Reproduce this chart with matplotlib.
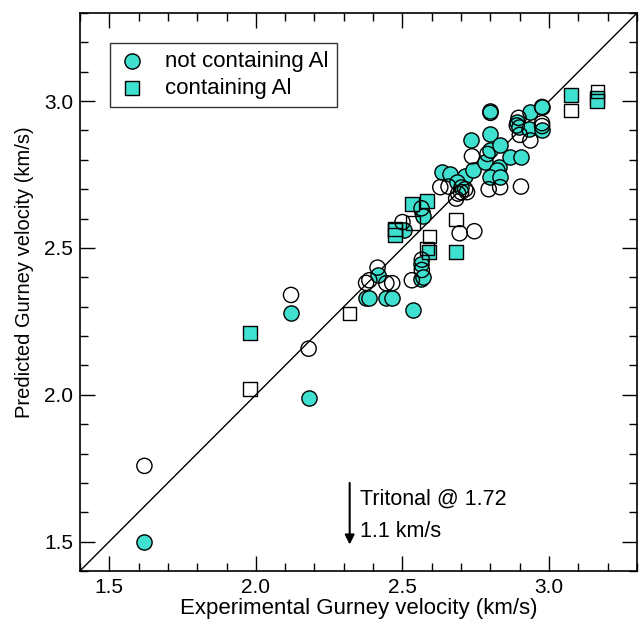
import matplotlib
matplotlib.use("Agg")
import matplotlib.pyplot as plt
from matplotlib.ticker import MultipleLocator

plt.rcParams["font.family"] = ["Liberation Sans", "DejaVu Sans"]

TURQ = "#40e0d0"

# not containing Al, filled
circ_fill_x = [1.62, 2.12, 2.18, 2.375, 2.385, 2.445, 2.465, 2.535, 2.415, 2.563,
               2.563, 2.57, 2.505, 2.565, 2.57, 2.634, 2.663, 2.714, 2.686, 2.70,
               2.733, 2.742, 2.782, 2.80, 2.80, 2.799, 2.833, 2.828, 2.822, 2.80,
               2.833, 2.865, 2.905, 2.89, 2.896, 2.93, 2.936, 2.976, 2.976]
circ_fill_y = [1.50, 2.28, 1.99, 2.33, 2.33, 2.33, 2.33, 2.29, 2.407, 2.447,
               2.395, 2.40, 2.562, 2.622, 2.61, 2.76, 2.752, 2.744, 2.724, 2.707,
               2.866, 2.765, 2.793, 2.889, 2.965, 2.832, 2.849, 2.777, 2.764, 2.741,
               2.741, 2.81, 2.81, 2.928, 2.912, 2.906, 2.962, 2.979, 2.902]

# not containing Al, open
circ_open_x = [1.62, 2.12, 2.18, 2.376, 2.387, 2.415, 2.445, 2.465, 2.532, 2.566,
               2.566, 2.50, 2.565, 2.695, 2.745, 2.629, 2.657, 2.683, 2.69, 2.70,
               2.714, 2.72, 2.737, 2.794, 2.833, 2.904, 2.79, 2.80, 2.896, 2.89,
               2.90, 2.936, 2.976, 2.976, 2.976]
circ_open_y = [1.758, 2.34, 2.157, 2.381, 2.39, 2.433, 2.38, 2.38, 2.39, 2.425,
               2.46, 2.588, 2.635, 2.55, 2.557, 2.707, 2.709, 2.668, 2.685, 2.69,
               2.70, 2.69, 2.812, 2.70, 2.707, 2.709, 2.82, 2.96, 2.943, 2.917,
               2.885, 2.866, 2.925, 2.915, 2.98]

# containing Al, filled
sq_fill_x = [1.98, 2.475, 2.475, 2.534, 2.584, 2.592, 2.683, 3.075, 3.165, 3.165]
sq_fill_y = [2.21, 2.56, 2.545, 2.651, 2.66, 2.486, 2.486, 3.02, 3.01, 3.00]

# containing Al, open
sq_open_x = [1.98, 2.32, 2.475, 2.535, 2.683, 2.592, 2.583, 3.075, 3.165]
sq_open_y = [2.02, 2.277, 2.565, 2.585, 2.597, 2.539, 2.498, 2.968, 3.033]

lims = (1.4, 3.3)

fig = plt.figure(figsize=(6.39, 6.25), dpi=100)
ax = fig.add_axes([0.125, 0.0864, 0.872, 0.8928])

ax.plot(lims, lims, color="black", lw=1.0, zorder=1)

ax.scatter(circ_fill_x, circ_fill_y, s=120, marker="o", facecolor=TURQ,
           edgecolor="black", linewidths=1.0, zorder=2, label="not containing Al")
ax.scatter(sq_fill_x, sq_fill_y, s=95, marker="s", facecolor=TURQ,
           edgecolor="black", linewidths=1.0, zorder=2, label="containing Al")
ax.scatter(circ_open_x, circ_open_y, s=120, marker="o", facecolor="none",
           edgecolor="black", linewidths=1.0, zorder=3)
ax.scatter(sq_open_x, sq_open_y, s=95, marker="s", facecolor="none",
           edgecolor="black", linewidths=1.0, zorder=3)

ax.annotate("", xy=(2.32, 1.49), xytext=(2.32, 1.70),
            arrowprops=dict(arrowstyle="-|>", color="black", lw=1.5,
                            mutation_scale=14, shrinkA=0, shrinkB=0))
ax.text(2.356, 1.645, "Tritonal @ 1.72", fontsize=15.5, va="center", ha="left")
ax.text(2.356, 1.536, "1.1 km/s", fontsize=15.5, va="center", ha="left")

ax.set_xlim(lims)
ax.set_ylim(lims)
ax.xaxis.set_major_locator(MultipleLocator(0.5))
ax.yaxis.set_major_locator(MultipleLocator(0.5))
ax.xaxis.set_minor_locator(MultipleLocator(0.1))
ax.yaxis.set_minor_locator(MultipleLocator(0.1))
ax.tick_params(which="both", direction="in", top=True, right=True, width=1.0)
ax.tick_params(which="major", length=11, labelsize=15, pad=5)
ax.tick_params(which="minor", length=5.5)
for sp in ax.spines.values():
    sp.set_linewidth(1.2)

ax.set_xlabel("Experimental Gurney velocity (km/s)", fontsize=16, labelpad=1)
ax.set_ylabel("Predicted Gurney velocity (km/s)", fontsize=14.5)
ax.yaxis.set_label_coords(-0.082, 0.536)

leg = ax.legend(loc="upper left", bbox_to_anchor=(0.054, 0.946), borderaxespad=0,
                fontsize=16, frameon=True, fancybox=False, edgecolor="black",
                handlelength=1.26, handletextpad=0.86, borderpad=0.36,
                labelspacing=0.26)
leg.get_frame().set_linewidth(1.0)

fig.savefig("out.png", dpi=100)
